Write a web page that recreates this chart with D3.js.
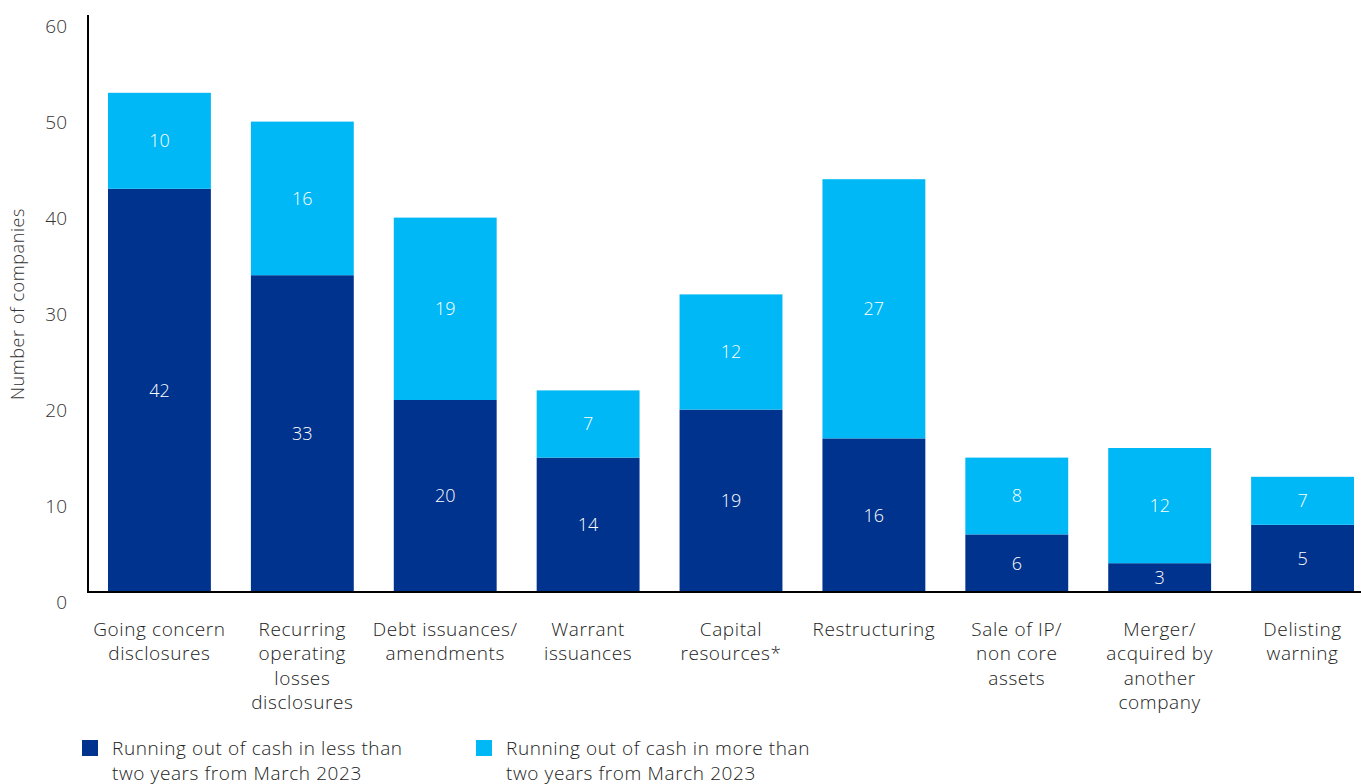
<!DOCTYPE html>
<html>
<head>
<meta charset="utf-8">
<script src="https://cdn.jsdelivr.net/npm/d3@7"></script>
<style>
  body { margin: 0; background: #fff; }
  svg text { font-family: "Open Sans", "Liberation Sans", Arial, sans-serif; font-weight: 300; }
</style>
</head>
<body>
<svg id="chart"></svg>
<script>
var categories = [
    ["Going concern", "disclosures"],
    ["Recurring", "operating", "losses", "disclosures"],
    ["Debt issuances/", "amendments"],
    ["Warrant", "issuances"],
    ["Capital", "resources*"],
    ["Restructuring"],
    ["Sale of IP/", "non core", "assets"],
    ["Merger/", "acquired by", "another", "company"],
    ["Delisting", "warning"]
];
// bar heights as drawn
var lessThanTwo = [42, 33, 20, 14, 19, 16, 6, 3, 7];
var moreThanTwo = [10, 16, 19, 7, 12, 27, 8, 12, 5];
// printed labels (last bar's labels don't match its drawn segments in the source)
var lessLabels = [42, 33, 20, 14, 19, 16, 6, 3, 5];
var moreLabels = [10, 16, 19, 7, 12, 27, 8, 12, 7];
var yTicks = [0, 10, 20, 30, 40, 50, 60];
var seriesNames = [
    ["Running out of cash in less than", "two years from March 2023"],
    ["Running out of cash in more than", "two years from March 2023"]
];
var colors = ["#00338D", "#00B8F5"];

var width = 1361;
var height = 784;

var svg = d3.select("#chart")
    .attr("width", width)
    .attr("height", height);

var x0 = 88;
var xScale = d3.scaleBand()
    .domain(d3.range(categories.length))
    .range([x0, 1374])
    .paddingInner(0.28)
    .paddingOuter(0.14);

var yScale = d3.scaleLinear()
    .domain([0, 60])
    .range([592, 16]);

// tick labels (sit a bit below their value in the source)
svg.selectAll(".ytick")
    .data(yTicks)
    .enter()
    .append("text")
    .attr("class", "ytick")
    .attr("x", 67)
    .attr("y", function(d) { return yScale(d) + 10; })
    .attr("dy", "0.35em")
    .attr("text-anchor", "end")
    .attr("font-size", 19)
    .attr("fill", "#333")
    .text(function(d) { return d; });

svg.append("text")
    .attr("transform", "translate(24," + 304 + ") rotate(-90)")
    .attr("text-anchor", "middle")
    .attr("font-size", 18)
    .attr("letter-spacing", 0.6)
    .attr("fill", "#333")
    .text("Number of companies");

// bars
var groups = svg.selectAll(".bar")
    .data(categories)
    .enter()
    .append("g")
    .attr("class", "bar");

groups.append("rect")
    .attr("x", function(d, i) { return xScale(i); })
    .attr("width", xScale.bandwidth())
    .attr("y", function(d, i) { return yScale(lessThanTwo[i]); })
    .attr("height", function(d, i) { return yScale(0) - yScale(lessThanTwo[i]); })
    .attr("fill", colors[0]);

groups.append("rect")
    .attr("x", function(d, i) { return xScale(i); })
    .attr("width", xScale.bandwidth())
    .attr("y", function(d, i) { return yScale(lessThanTwo[i] + moreThanTwo[i]); })
    .attr("height", function(d, i) { return yScale(lessThanTwo[i]) - yScale(lessThanTwo[i] + moreThanTwo[i]); })
    .attr("fill", colors[1]);

groups.append("text")
    .attr("x", function(d, i) { return xScale(i) + xScale.bandwidth() / 2; })
    .attr("y", function(d, i) { return yScale(lessThanTwo[i] / 2); })
    .attr("dy", "0.35em")
    .attr("text-anchor", "middle")
    .attr("font-size", 18)
    .attr("fill", "white")
    .text(function(d, i) { return lessLabels[i]; });

groups.append("text")
    .attr("x", function(d, i) { return xScale(i) + xScale.bandwidth() / 2; })
    .attr("y", function(d, i) { return yScale(lessThanTwo[i] + moreThanTwo[i] / 2); })
    .attr("dy", "0.35em")
    .attr("text-anchor", "middle")
    .attr("font-size", 18)
    .attr("fill", "white")
    .text(function(d, i) { return moreLabels[i]; });

// category labels
groups.append("text")
    .attr("text-anchor", "middle")
    .attr("font-size", 19)
    .attr("letter-spacing", 0.6)
    .attr("fill", "#222")
    .each(function(d, i) {
        var t = d3.select(this);
        d.forEach(function(line, j) {
            t.append("tspan")
                .attr("x", xScale(i) + xScale.bandwidth() / 2)
                .attr("y", 629 + j * 24.6)
                .attr("dy", "0.35em")
                .text(line);
        });
    });

// axes lines
svg.append("line")
    .attr("x1", x0).attr("x2", x0)
    .attr("y1", yScale(60) - 1).attr("y2", yScale(0) + 1)
    .attr("stroke", "#000").attr("stroke-width", 2);
svg.append("line")
    .attr("x1", x0 - 1).attr("x2", width)
    .attr("y1", yScale(0)).attr("y2", yScale(0))
    .attr("stroke", "#000").attr("stroke-width", 2);

// legend
var legendX = [82, 476];
var legend = svg.selectAll(".legend")
    .data(seriesNames)
    .enter()
    .append("g")
    .attr("class", "legend");

legend.append("rect")
    .attr("x", function(d, i) { return legendX[i]; })
    .attr("y", 740)
    .attr("width", 16)
    .attr("height", 16)
    .attr("fill", function(d, i) { return colors[i]; });

legend.append("text")
    .attr("font-size", 19)
    .attr("letter-spacing", 0.6)
    .attr("fill", "#222")
    .each(function(d, i) {
        var t = d3.select(this);
        d.forEach(function(line, j) {
            t.append("tspan")
                .attr("x", legendX[i] + 30)
                .attr("y", 748 + j * 25)
                .attr("dy", "0.35em")
                .text(line);
        });
    });
</script>
</body>
</html>
